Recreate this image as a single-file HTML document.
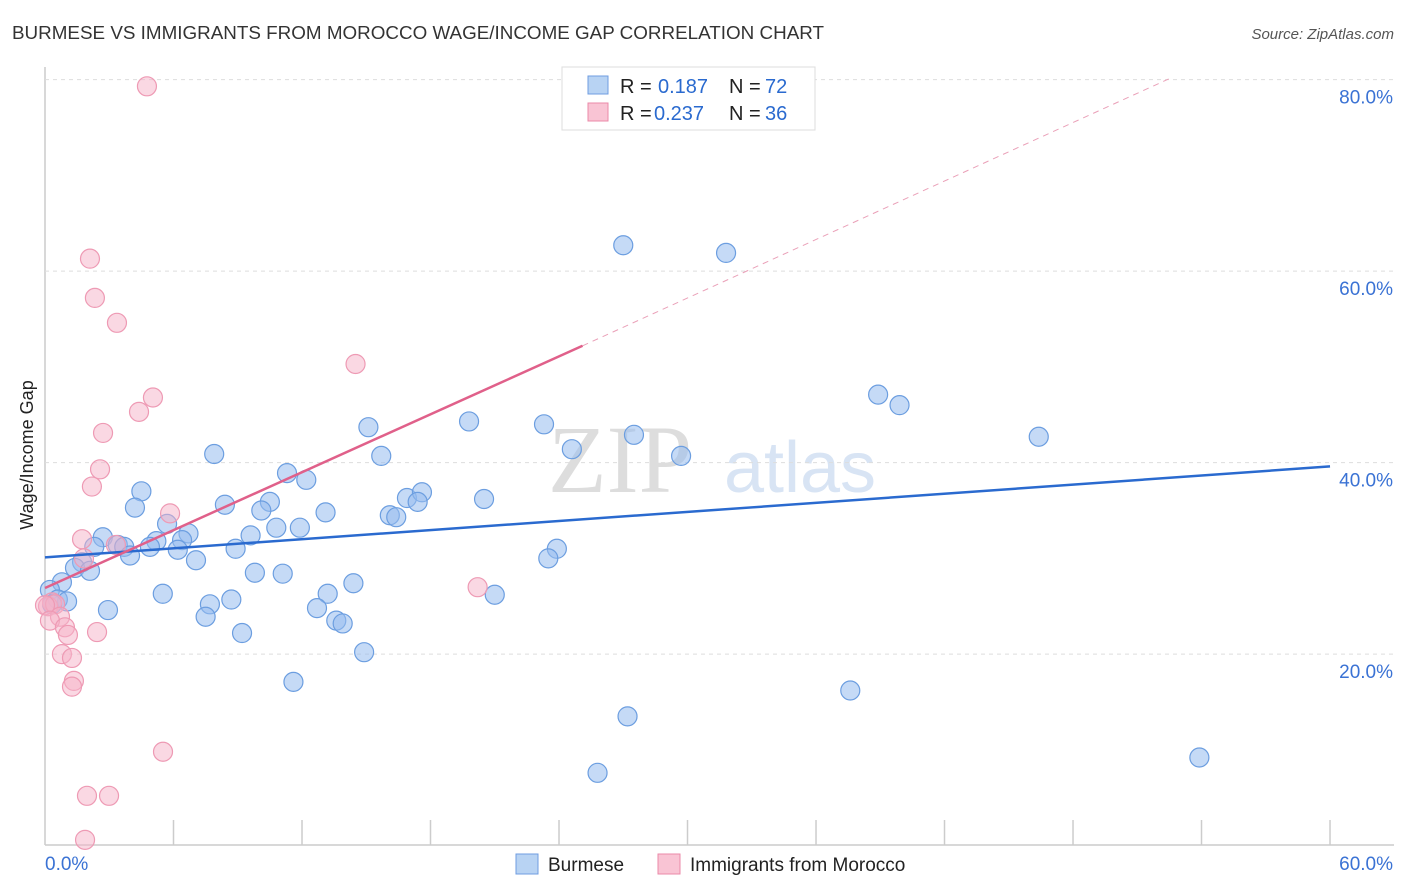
<!DOCTYPE html>
<html><head><meta charset="utf-8"><style>
body{margin:0;background:#fff;font-family:"Liberation Sans",sans-serif}
svg{display:block}
</style></head><body>
<svg id="c" width="1406" height="892">
<text x="12" y="39" font-size="18" fill="#333" textLength="812" lengthAdjust="spacingAndGlyphs">BURMESE VS IMMIGRANTS FROM MOROCCO WAGE/INCOME GAP CORRELATION CHART</text>
<text x="1394" y="39" font-size="15" fill="#555" font-style="italic" text-anchor="end">Source: ZipAtlas.com</text>
<text x="33" y="455" font-size="18" fill="#222" transform="rotate(-90 33 455)" text-anchor="middle">Wage/Income Gap</text>
<text x="620" y="492" font-size="96" fill="#ddd" font-family="Liberation Serif" text-anchor="middle">ZIP</text>
<text x="800" y="492" font-size="72" fill="#d8e4f4" text-anchor="middle">atlas</text>
<g id="grid"></g><g id="pts"></g><g id="lines"></g>
<g>
<rect x="562" y="67" width="253" height="63" fill="#fff" stroke="#ddd"/>
<rect x="588" y="76" width="20" height="18" fill="#b8d3f3" stroke="#6f9de0"/>
<rect x="588" y="103" width="20" height="18" fill="#f9c4d4" stroke="#eb8aa8"/>
<text x="620" y="93" font-size="20" fill="#222">R =</text><text x="658" y="93" font-size="20" fill="#2a6acf">0.187</text>
<text x="729" y="93" font-size="20" fill="#222">N =</text><text x="765" y="93" font-size="20" fill="#2a6acf">72</text>
<text x="620" y="120" font-size="20" fill="#222">R =</text><text x="654" y="120" font-size="20" fill="#2a6acf">0.237</text>
<text x="729" y="120" font-size="20" fill="#222">N =</text><text x="765" y="120" font-size="20" fill="#2a6acf">36</text>
</g>
<g>
<rect x="516" y="854" width="22" height="20" fill="#b8d3f3" stroke="#6f9de0"/>
<text x="548" y="871" font-size="19" fill="#222">Burmese</text>
<rect x="658" y="854" width="22" height="20" fill="#f9c4d4" stroke="#eb8aa8"/>
<text x="690" y="871" font-size="19" fill="#222">Immigrants from Morocco</text>
</g>
</svg>
<script>
const xTicks=[0,60];
const yTicks=[20,40,60,80];
const blueX=[27.0,31.8,38.9,39.9,46.4,19.8,23.3,15.1,27.5,24.6,29.7,7.9,15.7,11.3,12.2,4.5,16.9,17.6,17.4,20.5,8.4,10.5,4.2,10.1,13.1,16.1,16.4,5.7,10.8,11.9,6.7,2.7,6.4,5.2,9.6,3.4,4.9,2.3,3.7,8.9,6.2,23.9,23.5,3.97,7.05,1.73,1.4,2.1,9.8,11.1,14.4,0.79,0.23,5.5,13.2,21.0,0.6,1.03,0.33,7.7,8.7,2.94,12.7,13.6,13.9,7.5,9.2,14.9,11.6,37.6,27.2,25.8,53.9];
const blueY=[62.7,61.9,47.1,46.0,42.7,44.3,44.0,43.7,42.9,41.4,40.7,40.9,40.7,38.9,38.2,37.0,36.3,36.9,35.9,36.2,35.6,35.9,35.3,35.0,34.8,34.5,34.3,33.6,33.2,33.2,32.6,32.2,31.9,31.8,32.4,31.4,31.2,31.2,31.2,31.0,30.9,31.0,30.0,30.3,29.8,29.6,29.0,28.7,28.5,28.4,27.4,27.5,26.7,26.3,26.3,26.2,25.7,25.5,25.2,25.2,25.7,24.6,24.8,23.5,23.2,23.9,22.2,20.2,17.1,16.2,13.5,7.6,9.2];
const pinkX=[4.76,2.1,2.33,3.36,14.5,5.04,4.39,2.71,2.57,2.19,5.84,1.73,3.31,1.82,20.2,0.33,0.14,0.47,0.0,0.70,0.23,0.93,1.07,2.43,0.79,1.26,1.35,1.26,5.51,1.96,2.99,1.87];
const pinkY=[79.3,61.3,57.2,54.6,50.3,46.8,45.3,43.1,39.3,37.5,34.7,32.0,31.4,30.0,26.99,25.4,25.0,25.2,25.1,23.9,23.5,22.8,22.0,22.3,20.0,19.6,17.2,16.6,9.8,5.2,5.2,0.6];
const blueLine=[0,30.1,60,39.6];
const pinkLine=[0,26.9,25.1,52.2];
const pinkDash=[25.1,52.2,52.6,80.2];
const X=v=>45+v*21.417, Y=v=>845.6-v*9.575;
const NS='http://www.w3.org/2000/svg';
function mk(t,a,p){const e=document.createElementNS(NS,t);for(const k in a)e.setAttribute(k,a[k]);p.appendChild(e);return e;}
const g=document.getElementById('grid');
const ax=mk('line',{x1:45,y1:845,x2:1394,y2:845,stroke:'#ccc','stroke-width':1.5},g);


const ay=mk('line',{x1:45,y1:67,x2:45,y2:845,stroke:'#ccc','stroke-width':1.5},g);


for(let i=1;i<=10;i++){const t=mk('line',{x1:X(i*6),x2:X(i*6),y1:820,y2:845,stroke:'#ccc','stroke-width':1.5},g);

}
yTicks.forEach(v=>{const l=mk('line',{x1:45,x2:1394,y1:Y(v),y2:Y(v),stroke:'#ddd','stroke-dasharray':'4,4'},g);


const t=mk('text',{x:1393,y:Y(v)+24,'font-size':19,fill:'#3a72d4','text-anchor':'end'},g);t.textContent=v.toFixed(1)+'%';

});
xTicks.forEach((v,i)=>{const t=mk('text',{x:i?1393:45,y:870,'font-size':19,fill:'#3a72d4','text-anchor':i?'end':'start'},g);t.textContent=v.toFixed(1)+'%';

});
const p=document.getElementById('pts');
blueX.forEach((v,i)=>{const c=mk('circle',{cx:X(v),cy:Y(blueY[i]),r:9.5,fill:'rgba(150,188,238,0.55)',stroke:'#6c9ee0','stroke-width':1.2},p);

});
pinkX.forEach((v,i)=>{const c=mk('circle',{cx:X(v),cy:Y(pinkY[i]),r:9.5,fill:'rgba(246,178,200,0.5)',stroke:'#ee9ab4','stroke-width':1.2},p);

});
const L=document.getElementById('lines');
const bl=mk('line',{x1:X(blueLine[0]),y1:Y(blueLine[1]),x2:X(blueLine[2]),y2:Y(blueLine[3]),stroke:'#2a6acf','stroke-width':2.5},L);


const pl=mk('line',{x1:X(pinkLine[0]),y1:Y(pinkLine[1]),x2:X(pinkLine[2]),y2:Y(pinkLine[3]),stroke:'#e0608a','stroke-width':2.5},L);


const pd=mk('line',{x1:X(pinkDash[0]),y1:Y(pinkDash[1]),x2:X(pinkDash[2]),y2:Y(pinkDash[3]),stroke:'#eaa0b8','stroke-width':1,'stroke-dasharray':'6,5'},L);


</script>
</body></html>
